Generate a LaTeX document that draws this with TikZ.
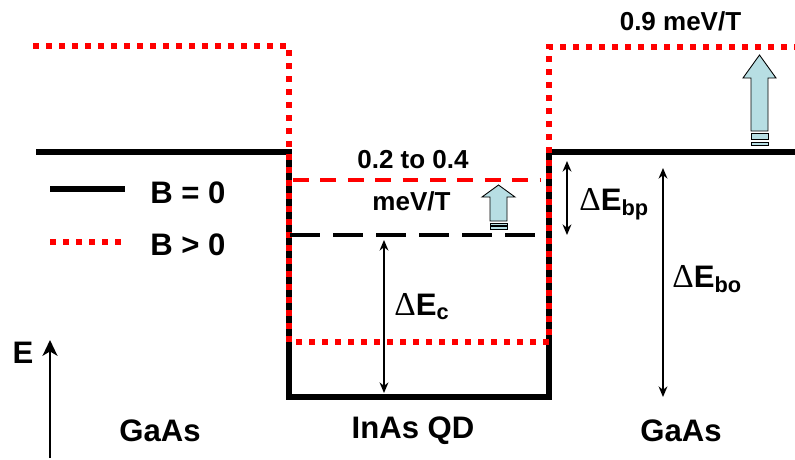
\documentclass[tikz,border=0pt]{standalone}
\usepackage{fontspec}
\setmainfont{Liberation Sans}
\newfontfamily\deltafont{Liberation Serif}
\usepackage{xcolor}
\usetikzlibrary{arrows.meta}
\definecolor{arrowblue}{HTML}{B7DEE3}

\begin{document}
\begin{tikzpicture}[x=0.02cm, y=-0.02cm]
    % Define styles
    \tikzstyle{level} = [line width=3.2pt, draw=black, line join=miter]
    \tikzstyle{shifted} = [line width=3.1pt, draw=red, dash pattern=on 3.2pt off 4.2pt]
    \tikzstyle{dashblack} = [line width=2.3pt, draw=black, dash pattern=on 17pt off 7.5pt]
    \tikzstyle{dashred} = [line width=2.3pt, draw=red, dash pattern=on 9pt off 6.6pt]
    \tikzstyle{arrow} = [line width=1.4pt,-{Stealth[length=9pt,width=8.5pt,inset=2.5pt]}]
    \tikzstyle{darrow} = [line width=1.1pt,{Stealth[length=6pt,width=5pt]}-{Stealth[length=6pt,width=5pt]}]
    \tikzstyle{label} = [inner sep=0pt, font=\fontsize{14.8pt}{17pt}\selectfont\bfseries]
    \tikzstyle{biglabel} = [inner sep=0pt, font=\fontsize{17.7pt}{20pt}\selectfont\bfseries]
    \tikzstyle{block} = [draw=black, line width=0.5pt, fill=arrowblue]

    \useasboundingbox (0,0) rectangle (795,460);

    % Band corners
    \coordinate (bl) at (36,152);
    \coordinate (wl) at (289,152);
    \coordinate (wbl) at (289,397);
    \coordinate (wbr) at (549,397);
    \coordinate (wr) at (549,152);
    \coordinate (br) at (795,152);
    \coordinate (rl) at (33,46);
    \coordinate (rtl) at (289,46);
    \coordinate (rbl) at (289,342);
    \coordinate (rbr) at (549,342);
    \coordinate (rtr) at (549,47);
    \coordinate (rr) at (795,47);

    % Bands
    \draw [level] (bl) -- (wl) -- (wbl) -- (wbr) -- (wr) -- (br);
    \draw [shifted] (rl) -- (rtl) -- (rbl) -- (rbr) -- (rtr) -- (rr);

    % Quantum dot levels
    \coordinate (qa) at (290,235);
    \coordinate (qb) at (537,235);
    \coordinate (qc) at (293,180);
    \coordinate (qd) at (541,180);
    \draw [dashblack] (qa) -- (qb);
    \draw [dashred] (qc) -- (qd);

    % Legend
    \coordinate (ka) at (50,189);
    \coordinate (kb) at (125,189);
    \coordinate (kc) at (50,242);
    \coordinate (kd) at (124,242);
    \draw [level] (ka) -- (kb);
    \draw [shifted] (kc) -- (kd);
    \node [biglabel, anchor=west] (zero) at (150,193) {B = 0};
    \node [biglabel, anchor=west] (nonzero) at (150,245) {B > 0};

    % Energy axis
    \coordinate (ea) at (50,458);
    \coordinate (eb) at (50,340);
    \draw [arrow] (ea) -- (eb);
    \node [biglabel] (energy) at (23,353) {E};

    % Offsets
    \coordinate (ca) at (384,240);
    \coordinate (cb) at (384,393);
    \coordinate (pa) at (567,161);
    \coordinate (pb) at (567,235);
    \coordinate (oa) at (663,168);
    \coordinate (ob) at (663,397);
    \draw [darrow] (ca) -- (cb);
    \draw [darrow] (pa) -- (pb);
    \draw [darrow] (oa) -- (ob);

    % Block arrows
    \draw [block] (759.5,55) -- (776,78) -- (768,78) -- (768,131) -- (751,131) -- (751,78) -- (743,78) -- cycle;
    \draw [block] (751,133) rectangle (768,139);
    \draw [block] (751,142) rectangle (768,145);
    \draw [block] (498.5,185) -- (515,197) -- (507,197) -- (507,221) -- (490,221) -- (490,197) -- (482,197) -- cycle;
    \draw [block] (490,223) rectangle (507,225);
    \draw [block] (490,226) rectangle (507,229);

    % Labels
    \node [label] (outer) at (680.5,21) {0.9 meV/T};
    \node [label] (innera) at (413,160) {0.2 to 0.4};
    \node [label] (innerb) at (411.5,201) {meV/T};
    \node [biglabel, anchor=base west] (dbp) at (579,210) {{\deltafont\fontseries{m}\selectfont\fontsize{19pt}{20pt}\selectfont Δ}E\textsubscript{bp}};
    \node [biglabel, anchor=base west] (dbo) at (672,287) {{\deltafont\fontseries{m}\selectfont\fontsize{19pt}{20pt}\selectfont Δ}E\textsubscript{bo}};
    \node [biglabel, anchor=base west] (dc) at (394,315) {{\deltafont\fontseries{m}\selectfont\fontsize{19pt}{20pt}\selectfont Δ}E\textsubscript{c}};
    \node [biglabel] (left) at (160,431) {GaAs};
    \node [biglabel] (middle) at (413,431) {InAs QD};
    \node [biglabel] (right) at (681,431) {GaAs};
\end{tikzpicture}
\end{document}
